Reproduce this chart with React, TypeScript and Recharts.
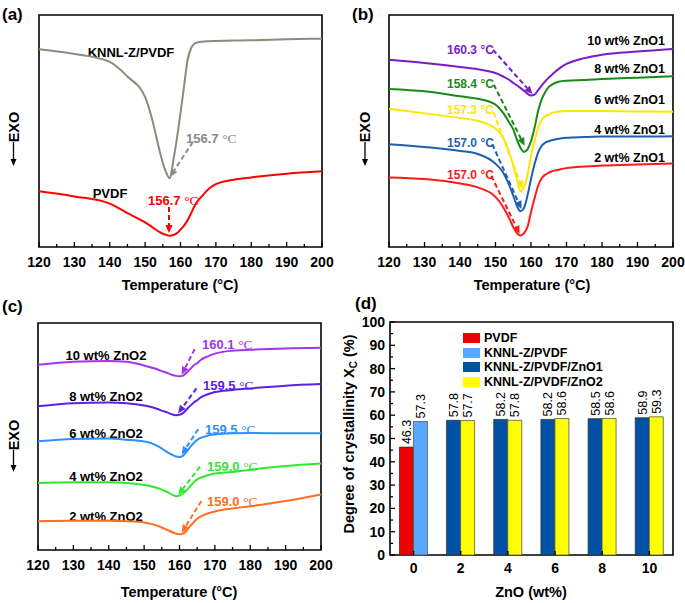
import React from 'react'
import {
  LineChart,
  Line,
  BarChart,
  Bar,
  Cell,
  LabelList,
  XAxis,
  YAxis,
  ReferenceArea,
  ReferenceLine,
  Legend,
} from 'recharts'

const FONT = 'Arial, "Liberation Sans", Helvetica, sans-serif'

// shared temperature grid for the DSC curves (°C)
const temps = [120, 130, 140, 145, 150, 152, 154, 155, 156, 157, 158, 159, 160, 161, 162, 163, 164, 165, 166, 168, 170, 175, 180, 190, 200]
const tempTicks = [120, 125, 130, 135, 140, 145, 150, 155, 160, 165, 170, 175, 180, 185, 190, 195, 200]

// (a) heat flow, arbitrary units (0 = bottom of frame, 100 = top)
const aKnnl = [85.2, 83.2, 79.8, 73.5, 64.6, 55.0, 42.0, 36.2, 31.9, 29.6, 37.6, 46.9, 57.7, 69.2, 80.6, 85.7, 87.7, 88.2, 88.5, 88.7, 88.8, 89.0, 89.1, 89.5, 89.8]
const aPvdf = [24.0, 21.8, 18.7, 14.6, 10.6, 8.6, 6.5, 5.7, 5.2, 4.9, 5.2, 6.0, 7.5, 9.2, 11.5, 14.6, 17.8, 20.1, 21.8, 25.1, 27.1, 29.0, 30.0, 31.6, 32.6]

// (b) ZnO1 series
const b10 = [80.7, 79.3, 77.6, 76.6, 75.0, 73.6, 71.9, 70.7, 69.7, 68.6, 67.4, 66.1, 65.3, 65.7, 67.6, 69.6, 71.4, 73.0, 74.4, 77.0, 78.9, 81.4, 82.9, 84.3, 85.4]
const b8 = [68.1, 67.1, 65.0, 63.9, 61.4, 58.1, 53.3, 50.7, 46.4, 42.9, 41.0, 42.1, 45.7, 51.4, 58.6, 63.6, 66.7, 69.0, 70.1, 71.3, 71.7, 72.0, 72.4, 73.0, 73.6]
const b6 = [59.6, 57.6, 55.6, 54.4, 51.0, 47.6, 40.0, 35.0, 29.3, 24.0, 25.7, 30.7, 39.3, 45.7, 51.4, 54.7, 56.4, 57.1, 57.9, 58.4, 58.6, 58.6, 58.6, 58.4, 58.3]
const b4 = [44.3, 43.1, 41.4, 40.1, 35.9, 32.4, 26.1, 22.1, 17.9, 15.4, 16.7, 22.1, 29.3, 35.7, 40.7, 43.6, 45.0, 45.6, 46.1, 46.7, 47.1, 47.4, 47.6, 47.6, 47.7]
const b2 = [30.0, 29.3, 27.4, 25.7, 21.6, 17.6, 11.9, 8.6, 6.0, 5.0, 5.9, 8.6, 15.0, 21.0, 26.4, 29.6, 31.1, 32.1, 32.7, 33.4, 34.0, 34.7, 35.1, 35.6, 36.0]

// (c) ZnO2 series
const c10 = [81.6, 82.9, 83.3, 82.9, 81.3, 80.4, 79.4, 78.8, 78.3, 77.7, 77.1, 76.7, 76.5, 76.8, 78.1, 79.7, 81.3, 82.3, 83.7, 85.3, 86.5, 87.8, 88.2, 88.8, 89.1]
const c8 = [63.3, 64.7, 65.0, 64.7, 63.7, 63.0, 62.0, 61.4, 60.9, 60.3, 59.7, 59.4, 59.6, 60.3, 61.9, 63.5, 64.9, 66.0, 67.2, 68.6, 69.6, 70.5, 71.2, 72.4, 73.1]
const c6 = [47.9, 48.9, 49.1, 48.6, 47.8, 47.1, 45.6, 44.7, 43.7, 42.7, 41.9, 41.2, 41.0, 41.6, 43.2, 45.3, 47.1, 48.5, 49.4, 50.4, 50.9, 51.4, 51.5, 51.4, 51.4]
const c4 = [29.5, 29.9, 29.8, 29.5, 28.6, 28.1, 27.2, 26.6, 25.9, 25.2, 24.3, 23.7, 24.0, 24.9, 26.3, 28.1, 29.8, 31.1, 31.9, 32.9, 33.7, 34.4, 35.4, 37.0, 38.1]
const c2 = [12.7, 12.9, 12.9, 12.7, 12.1, 11.5, 10.5, 9.9, 9.2, 8.5, 7.8, 7.2, 6.9, 7.2, 8.5, 10.5, 12.2, 13.8, 14.8, 16.1, 17.0, 18.3, 19.3, 21.6, 24.5]

// (d) degree of crystallinity
const znoContent = ['0', '2', '4', '6', '8', '10']
const pvdfXc = [46.3]
const knnlXc = [57.3]
const zno1Xc = [57.8, 58.2, 58.2, 58.5, 58.9]
const zno2Xc = [57.7, 57.8, 58.6, 58.6, 59.3]
const xcTicks = [0, 5, 10, 15, 20, 25, 30, 35, 40, 45, 50, 55, 60, 65, 70, 75, 80, 85, 90, 95, 100]

const COL = {
  aGray: '#8b8b7d',
  aRed: '#ff0000',
  b10: '#7a1cc4',
  b8: '#188a18',
  b6: '#ffe600',
  b4: '#1f5fb0',
  b2: '#ff1a1a',
  c10: '#a335ee',
  c8: '#5a22e6',
  c6: '#2f8fff',
  c4: '#2fe82f',
  c2: '#ff6d1f',
  dRed: '#ee0000',
  dLight: '#55aaff',
  dDark: '#0052a6',
  dYellow: '#ffff00',
}

const LW = 2

// peak annotation arrows (data coords: from -> to)
const arrowsA = [
  { from: [163.5, 45.3], to: [157.0, 30.2], color: '#8a8a8a' },
  { from: [156.75, 17.2], to: [156.75, 6.0], color: COL.aRed },
]
const arrowsB = [
  { from: [149.3, 85.0], to: [160.4, 65.9], color: COL.b10 },
  { from: [149.5, 70.0], to: [158.2, 43.6], color: COL.b8 },
  { from: [149.5, 57.9], to: [157.6, 25.0], color: COL.b6 },
  { from: [149.1, 44.3], to: [157.3, 16.4], color: COL.b4 },
  { from: [148.8, 30.7], to: [156.8, 5.7], color: COL.b2 },
]
const arrowsC = [
  { from: [164.3, 88.5], to: [160.6, 77.2], color: COL.c10 },
  { from: [164.8, 71.2], to: [159.6, 60.2], color: COL.c8 },
  { from: [165.3, 53.2], to: [160.6, 42.1], color: COL.c6 },
  { from: [165.8, 36.7], to: [159.6, 24.3], color: COL.c4 },
  { from: [166.2, 21.6], to: [160.6, 7.6], color: COL.c2 },
]

const dataA = temps.map((t, i) => ({ t, knnl: aKnnl[i], pvdf: aPvdf[i] }))
const dataB = temps.map((t, i) => ({ t, w10: b10[i], w8: b8[i], w6: b6[i], w4: b4[i], w2: b2[i] }))
const dataC = temps.map((t, i) => ({ t, w10: c10[i], w8: c8[i], w6: c6[i], w4: c4[i], w2: c2[i] }))
const dataD = znoContent.map((c, i) => ({
  c,
  first: i === 0 ? pvdfXc[0] : zno1Xc[i - 1],
  second: i === 0 ? knnlXc[0] : zno2Xc[i - 1],
}))

const legendItems = [
  { name: 'PVDF', color: COL.dRed },
  { name: 'KNNL-Z/PVDF', color: COL.dLight },
  { name: 'KNNL-Z/PVDF/ZnO1', color: COL.dDark },
  { name: 'KNNL-Z/PVDF/ZnO2', color: COL.dYellow },
]

function arrowShape(color: string) {
  return (p: any) => {
    const { x1, y1, x2, y2 } = p
    const a = Math.atan2(y2 - y1, x2 - x1)
    const L = 8
    const W = 3.6
    const bx = x2 - L * Math.cos(a)
    const by = y2 - L * Math.sin(a)
    const px = W * Math.sin(a)
    const py = W * Math.cos(a)
    return (
      <g>
        <line x1={x1} y1={y1} x2={bx} y2={by} stroke={color} strokeWidth={2} strokeDasharray="5 3" />
        <polygon points={`${x2},${y2} ${bx + px},${by - py} ${bx - px},${by + py}`} fill={color} />
      </g>
    )
  }
}

function TempTick({ x, y, payload }: any) {
  const major = payload.value % 10 === 0
  return (
    <g>
      <line x1={x} x2={x} y1={y} y2={y - (major ? 5 : 3)} stroke="#000" strokeWidth={1.3} />
      {major && (
        <text x={x} y={y + 20} textAnchor="middle" fontSize={14} fontWeight="bold" fontFamily={FONT} fill="#000">
          {payload.value}
        </text>
      )}
    </g>
  )
}

function XcTick({ x, y, payload }: any) {
  const major = payload.value % 10 === 0
  return (
    <g>
      <line x1={x} x2={x + (major ? 5 : 3)} y1={y} y2={y} stroke="#000" strokeWidth={1.3} />
      {major && (
        <text x={x - 5} y={y + 5} textAnchor="end" fontSize={14} fontWeight="bold" fontFamily={FONT} fill="#000">
          {payload.value}
        </text>
      )}
    </g>
  )
}

function ZnoTick({ x, y, payload }: any) {
  return (
    <g>
      <line x1={x} x2={x} y1={y} y2={y - 4} stroke="#000" strokeWidth={1.3} />
      <text x={x} y={y + 18} textAnchor="middle" fontSize={14} fontWeight="bold" fontFamily={FONT} fill="#000">
        {payload.value}
      </text>
    </g>
  )
}

function Exo({ x, yc, yEnd }: { x: number; yc: number; yEnd: number }) {
  return (
    <g>
      <text
        transform={`translate(${x + 5.2},${yc}) rotate(-90)`}
        textAnchor="middle"
        fontSize={14.5}
        fontWeight="bold"
        fontFamily={FONT}
        fill="#000"
      >
        EXO
      </text>
      <line x1={x} x2={x} y1={yc + 15} y2={yEnd - 5} stroke="#000" strokeWidth={1.3} />
      <polygon points={`${x},${yEnd} ${x - 3},${yEnd - 7} ${x + 3},${yEnd - 7}`} fill="#000" />
    </g>
  )
}

function Txt({ x, y, children, color = '#000', size = 13, anchor = 'start' }: any) {
  return (
    <text x={x} y={y} fill={color} fontSize={size} fontWeight="bold" fontFamily={FONT} textAnchor={anchor}>
      {children}
    </text>
  )
}

function TempLabel({ x, y, color, value, serif }: any) {
  return (
    <text x={x} y={y} fill={color} fontSize={serif ? 13 : 12} fontWeight="bold" fontFamily={FONT}>
      {value + ' '}
      {serif ? (
        <tspan fontFamily='"Liberation Serif", "Times New Roman", serif' fontWeight="normal" fontSize={13.5}>
          °C
        </tspan>
      ) : (
        '°C'
      )}
    </text>
  )
}

function Letter({ x, y, t }: any) {
  return (
    <text x={x} y={y} fontSize={17} fontWeight="bold" fontFamily={FONT} fill="#000">
      {t}
    </text>
  )
}

function TempAxisTitle({ x, y }: any) {
  return (
    <text x={x} y={y} textAnchor="middle" fontSize={14.5} fontWeight="bold" fontFamily={FONT} fill="#000">
      Temperature (°C)
    </text>
  )
}

function Frame({ x1, x2 }: any) {
  return (
    <ReferenceArea x1={x1} x2={x2} y1={0} y2={100} fill="none" stroke="#000" strokeWidth={1.6} ifOverflow="visible" />
  )
}

function tempXAxis() {
  return (
    <XAxis
      dataKey="t"
      type="number"
      domain={[120, 200]}
      ticks={tempTicks}
      interval={0}
      height={53}
      axisLine={false}
      tickLine={false}
      tickSize={0}
      tickMargin={0}
      tick={TempTick}
      allowDataOverflow
    />
  )
}

function PanelA() {
  return (
    <LineChart width={340} height={300} data={dataA} margin={{ top: 15, right: 18, bottom: 0, left: 39 }}>
      {tempXAxis()}
      <YAxis hide domain={[0, 100]} allowDataOverflow />
      <Line type="monotone" dataKey="knnl" stroke={COL.aGray} strokeWidth={LW} dot={false} isAnimationActive={false} />
      <Line type="monotone" dataKey="pvdf" stroke={COL.aRed} strokeWidth={LW} dot={false} isAnimationActive={false} />
      {Frame({ x1: 120, x2: 200 })}
      {arrowsA.map((a, i) => (
        <ReferenceLine
          key={i}
          segment={[{ x: a.from[0], y: a.from[1] }, { x: a.to[0], y: a.to[1] }]}
          shape={arrowShape(a.color)}
          ifOverflow="visible"
        />
      ))}
      <Letter x={2} y={20} t="(a)" />
      <Exo x={13.5} yc={127} yEnd={166} />
      <Txt x={131} y={57} anchor="middle">KNNL-Z/PVDF</Txt>
      <Txt x={110} y={198} anchor="middle">PVDF</Txt>
      <TempLabel x={148} y={205} color={COL.aRed} value="156.7" serif />
      <TempLabel x={186} y={143} color="#8a8a8a" value="156.7" serif />
      <TempAxisTitle x={180} y={290} />
    </LineChart>
  )
}

const seriesB = [
  { key: 'w10', color: COL.b10, label: '10 wt% ZnO1', ly: 44.5, temp: '160.3', ty: 54 },
  { key: 'w8', color: COL.b8, label: '8 wt% ZnO1', ly: 72.5, temp: '158.4', ty: 88 },
  { key: 'w6', color: COL.b6, label: '6 wt% ZnO1', ly: 103.5, temp: '157.3', ty: 114 },
  { key: 'w4', color: COL.b4, label: '4 wt% ZnO1', ly: 133.5, temp: '157.0', ty: 147 },
  { key: 'w2', color: COL.b2, label: '2 wt% ZnO1', ly: 161.5, temp: '157.0', ty: 179 },
]

function PanelB() {
  return (
    <LineChart width={345} height={300} data={dataB} margin={{ top: 15, right: 12, bottom: 0, left: 49 }}>
      {tempXAxis()}
      <YAxis hide domain={[0, 100]} allowDataOverflow />
      {seriesB.map((s) => (
        <Line key={s.key} type="monotone" dataKey={s.key} stroke={s.color} strokeWidth={LW} dot={false} isAnimationActive={false} />
      ))}
      {Frame({ x1: 120, x2: 200 })}
      {arrowsB.map((a, i) => (
        <ReferenceLine
          key={i}
          segment={[{ x: a.from[0], y: a.from[1] }, { x: a.to[0], y: a.to[1] }]}
          shape={arrowShape(a.color)}
          ifOverflow="visible"
        />
      ))}
      <Letter x={12} y={20} t="(b)" />
      <Exo x={25} yc={127} yEnd={166} />
      {seriesB.map((s) => (
        <Txt key={'l' + s.key} x={325} y={s.ly} anchor="end" size={12.5}>
          {s.label}
        </Txt>
      ))}
      {seriesB.map((s) => (
        <TempLabel key={'t' + s.key} x={107} y={s.ty} color={s.color} value={s.temp} />
      ))}
      <TempAxisTitle x={192} y={290} />
    </LineChart>
  )
}

const seriesC = [
  { key: 'w10', color: COL.c10, label: '10 wt% ZnO2', ly: 69.5, temp: '160.1', tx: 202, ty: 58.5 },
  { key: 'w8', color: COL.c8, label: '8 wt% ZnO2', ly: 110.5, temp: '159.5', tx: 203, ty: 99.5 },
  { key: 'w6', color: COL.c6, label: '6 wt% ZnO2', ly: 147.5, temp: '159.5', tx: 205, ty: 143.5 },
  { key: 'w4', color: COL.c4, label: '4 wt% ZnO2', ly: 190.5, temp: '159.0', tx: 207, ty: 180.5 },
  { key: 'w2', color: COL.c2, label: '2 wt% ZnO2', ly: 230.5, temp: '159.0', tx: 207, ty: 215.5 },
]

function PanelC() {
  return (
    <LineChart width={340} height={313} data={dataC} margin={{ top: 33, right: 19, bottom: 0, left: 38 }}>
      {tempXAxis()}
      <YAxis hide domain={[0, 100]} allowDataOverflow />
      {seriesC.map((s) => (
        <Line key={s.key} type="monotone" dataKey={s.key} stroke={s.color} strokeWidth={LW} dot={false} isAnimationActive={false} />
      ))}
      {Frame({ x1: 120, x2: 200 })}
      {arrowsC.map((a, i) => (
        <ReferenceLine
          key={i}
          segment={[{ x: a.from[0], y: a.from[1] }, { x: a.to[0], y: a.to[1] }]}
          shape={arrowShape(a.color)}
          ifOverflow="visible"
        />
      ))}
      <Letter x={2} y={22} t="(c)" />
      <Exo x={13.5} yc={145} yEnd={182} />
      {seriesC.map((s) => (
        <Txt key={'l' + s.key} x={106} y={s.ly} anchor="middle">
          {s.label}
        </Txt>
      ))}
      {seriesC.map((s) => (
        <TempLabel key={'t' + s.key} x={s.tx} y={s.ty} color={s.color} value={s.temp} serif />
      ))}
      <TempAxisTitle x={179} y={307} />
    </LineChart>
  )
}

function XcLegend() {
  return (
    <div style={{ fontFamily: FONT, fontWeight: 'bold', fontSize: 12.5, color: '#000', lineHeight: '14.6px' }}>
      {legendItems.map((it) => (
        <div key={it.name} style={{ display: 'flex', alignItems: 'center', height: 14.6, whiteSpace: 'nowrap' }}>
          <span style={{ display: 'inline-block', width: 17, height: 10, background: it.color, marginRight: 4 }} />
          {it.name}
        </div>
      ))}
    </div>
  )
}

function ValueLabel({ x, y, width, value }: any) {
  const cx = x + width / 2 + 4.5
  return (
    <text transform={`translate(${cx},${y - 3}) rotate(-90)`} fontSize={12.5} fontFamily={FONT} fill="#000">
      {Number(value).toFixed(1)}
    </text>
  )
}

function PanelD() {
  return (
    <BarChart
      width={345}
      height={313}
      data={dataD}
      margin={{ top: 32, right: 12, bottom: 0, left: 0 }}
      barCategoryGap="20%"
      barGap={0}
    >
      <XAxis
        dataKey="c"
        type="category"
        interval={0}
        height={48}
        axisLine={false}
        tickLine={false}
        tickSize={0}
        tickMargin={0}
        tick={ZnoTick}
      />
      <YAxis
        domain={[0, 100]}
        ticks={xcTicks}
        interval={0}
        width={50}
        axisLine={false}
        tickLine={false}
        tickSize={0}
        tickMargin={0}
        tick={XcTick}
      />
      <Bar dataKey="first" stroke="#333" strokeWidth={0.8} isAnimationActive={false}>
        {dataD.map((d, i) => (
          <Cell key={i} fill={i === 0 ? COL.dRed : COL.dDark} />
        ))}
        <LabelList dataKey="first" content={ValueLabel} />
      </Bar>
      <Bar dataKey="second" stroke="#555" strokeWidth={0.8} isAnimationActive={false}>
        {dataD.map((d, i) => (
          <Cell key={i} fill={i === 0 ? COL.dLight : COL.dYellow} />
        ))}
        <LabelList dataKey="second" content={ValueLabel} />
      </Bar>
      <ReferenceArea x1="0" x2="10" y1={0} y2={100} fill="none" stroke="#000" strokeWidth={1.6} ifOverflow="visible" />
      <Legend
        layout="vertical"
        align="center"
        verticalAlign="middle"
        content={XcLegend}
        wrapperStyle={{ left: 123, top: 41, width: 'auto' }}
      />
      <Letter x={15} y={19} t="(d)" />
      <text
        transform="translate(14,144) rotate(-90)"
        textAnchor="middle"
        fontSize={14.5}
        fontWeight="bold"
        fontFamily={FONT}
        fill="#000"
      >
        Degree of crystallinity X
        <tspan fontSize={10} dy={3}>C</tspan>
        <tspan dy={-3}> (%)</tspan>
      </text>
      <text x={191} y={307} textAnchor="middle" fontSize={14.5} fontWeight="bold" fontFamily={FONT} fill="#000">
        ZnO (wt%)
      </text>
    </BarChart>
  )
}

export default function App() {
  return (
    <div style={{ position: 'absolute', left: 0, top: 0, width: 685, height: 603, background: '#fff' }}>
      <div style={{ position: 'absolute', left: 0, top: 0 }}>
        <PanelA />
      </div>
      <div style={{ position: 'absolute', left: 340, top: 0 }}>
        <PanelB />
      </div>
      <div style={{ position: 'absolute', left: 0, top: 290 }}>
        <PanelC />
      </div>
      <div style={{ position: 'absolute', left: 340, top: 290 }}>
        <PanelD />
      </div>
    </div>
  )
}
